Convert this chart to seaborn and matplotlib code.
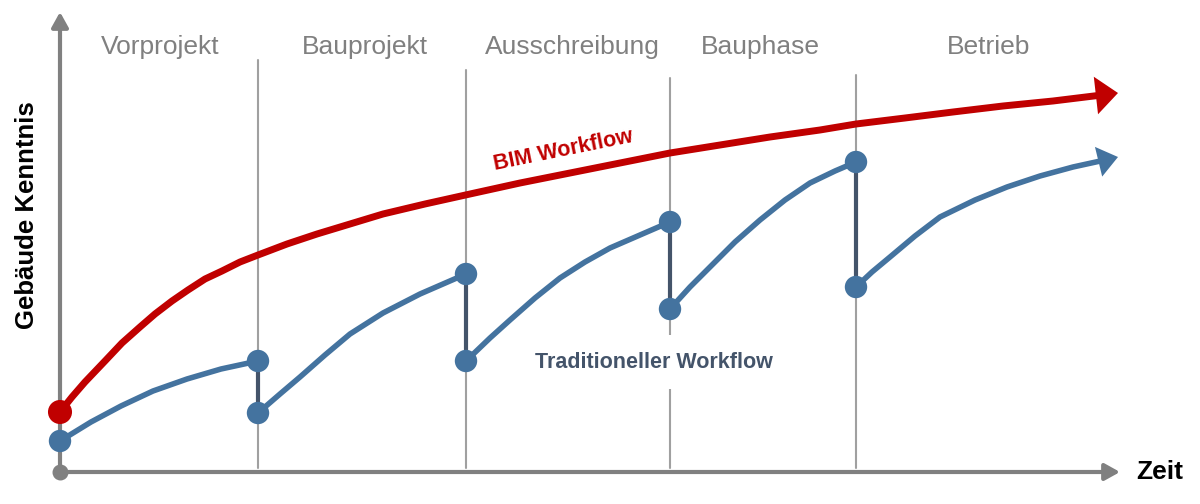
import pandas as pd
import matplotlib.pyplot as plt
import seaborn as sns

sns.set_theme(style='white')
plt.rcParams['font.family'] = ['Liberation Sans', 'DejaVu Sans']

# Phasen (Zeit-Einheiten: Abstand vom Ursprung)
phasen = ['Vorprojekt', 'Bauprojekt', 'Ausschreibung', 'Bauphase', 'Betrieb']
phasen_mitte = [100, 305, 512, 700, 929]
phasen_grenzen = [198, 406, 610, 796]
grenzen_oben = [412, 402, 394, 397]

# BIM Workflow
bim_zeit = [0, 12, 25, 45, 62, 80, 95, 112, 128, 145, 162, 180, 198, 227, 257, 290, 323,
            365, 410, 460, 510, 560, 610, 660, 710, 760, 796, 845, 893, 943, 993, 1042]
bim_kenntnis = [60, 75, 90, 111, 129, 145, 158, 171, 182, 193, 201, 210, 217, 228, 238,
                248, 258, 268, 278, 289, 299, 309, 319, 327, 335, 342, 348, 354, 360,
                366, 371, 377]
bim_spitze = (1058, 379)

# Traditioneller Workflow: Segmente pro Phase
trad_seg = [
    ([0, 31, 61, 93, 127, 161, 198], [31, 50, 66, 81, 93, 103, 111]),
    ([198, 220, 240, 265, 290, 323, 360, 406], [59, 78, 95, 117, 138, 159, 178, 198]),
    ([406, 430, 450, 475, 500, 525, 550, 580, 610], [111, 134, 152, 174, 194, 210, 224, 237, 250]),
    ([610, 630, 650, 675, 700, 725, 750, 775, 796], [163, 185, 205, 230, 252, 272, 289, 301, 310]),
    ([796, 812, 830, 855, 880, 915, 947, 980, 1013, 1045], [185, 200, 215, 236, 255, 272, 285, 296, 305, 312]),
]
trad_spitze = (1058, 315)

rows = []
for i, (t, k) in enumerate(trad_seg):
    for a, b in zip(t, k):
        rows.append({'seg': i, 'zeit': a, 'kenntnis': b})
df_trad = pd.DataFrame(rows)
df_bim = pd.DataFrame({'zeit': bim_zeit, 'kenntnis': bim_kenntnis})

rot = '#c00000'
blau = '#44739f'
dunkel = '#44546a'
grau = '#808080'

fig = plt.figure(figsize=(12, 5.04), dpi=100)
ax = fig.add_axes([0, 0, 1, 1])
ax.set_xlim(-60, 1140)
ax.set_ylim(-32, 472)
ax.axis('off')

# Phasengrenzen
for g, o in zip(phasen_grenzen, grenzen_oben):
    ax.plot([g, g], [4, o], color='#a0a0a0', lw=1.5, zorder=1)
for name, m in zip(phasen, phasen_mitte):
    ax.text(m, 425, name, ha='center', va='center', fontsize=19, color=grau)

# Achsen
pfeil_achse = dict(arrowstyle='-|>,head_length=0.45,head_width=0.25', color=grau, lw=3,
                   mutation_scale=20, shrinkA=0, shrinkB=0)
ax.annotate('', xy=(1060, 0), xytext=(0, 0), arrowprops=pfeil_achse, zorder=2)
ax.annotate('', xy=(0, 460), xytext=(0, 0), arrowprops=pfeil_achse, zorder=2)
ax.scatter([0], [0], s=110, color=grau, zorder=3)
ax.text(1100, 0, 'Zeit', ha='center', va='center', fontsize=19, fontweight='bold', color='black')
ax.text(-33, 257, 'Gebäude Kenntnis', ha='center', va='center', rotation=90,
        fontsize=18.5, fontweight='bold', color='black')

# Traditioneller Workflow
for i in range(len(trad_seg) - 1):
    t, k = trad_seg[i]
    t2, k2 = trad_seg[i + 1]
    ax.plot([t[-1], t2[0]], [k[-1], k2[0]], color=dunkel, lw=3, zorder=4)
sns.lineplot(data=df_trad, x='zeit', y='kenntnis', units='seg', estimator=None, sort=False,
             color=blau, lw=4, ax=ax, zorder=3, solid_capstyle='round', solid_joinstyle='round')
ends = df_trad.groupby('seg').agg(['first', 'last'])
punkte = pd.DataFrame({
    'zeit': list(ends[('zeit', 'first')]) + list(ends[('zeit', 'last')][:-1]),
    'kenntnis': list(ends[('kenntnis', 'first')]) + list(ends[('kenntnis', 'last')][:-1]),
})
sns.scatterplot(data=punkte, x='zeit', y='kenntnis', s=260, color=blau, edgecolor='none',
                ax=ax, zorder=5)
ax.annotate('', xy=trad_spitze, xytext=(trad_seg[-1][0][-3], trad_seg[-1][1][-3]),
            arrowprops=dict(arrowstyle='-|>,head_length=0.72,head_width=0.55', color=blau,
                            lw=0, mutation_scale=20, shrinkA=0, shrinkB=0), zorder=3)

# BIM Workflow
sns.lineplot(data=df_bim, x='zeit', y='kenntnis', sort=False, color=rot, lw=5, ax=ax,
             zorder=6, solid_capstyle='round', solid_joinstyle='round')
sns.scatterplot(x=[bim_zeit[0]], y=[bim_kenntnis[0]], s=300, color=rot, edgecolor='none',
                ax=ax, zorder=7)
ax.annotate('', xy=bim_spitze, xytext=(bim_zeit[-3], bim_kenntnis[-3]),
            arrowprops=dict(arrowstyle='-|>,head_length=0.8,head_width=0.68', color=rot,
                            lw=0, mutation_scale=20, shrinkA=0, shrinkB=0), zorder=6)

ax.text(503, 322, 'BIM Workflow', ha='center', va='center', rotation=11.5,
        fontsize=15.5, fontweight='bold', color=rot)
ax.text(594, 110, 'Traditioneller Workflow', ha='center', va='center', fontsize=15.5,
        fontweight='bold', color=dunkel,
        bbox=dict(facecolor='white', edgecolor='none', pad=12), zorder=2)

fig.savefig('out.png', dpi=100)
